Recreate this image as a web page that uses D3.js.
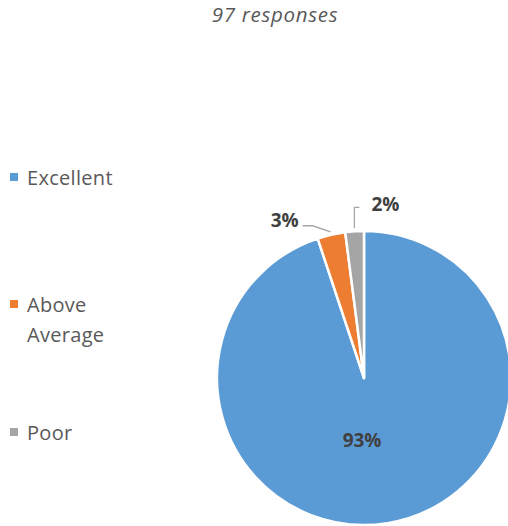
<!DOCTYPE html>
<html>
<head>
<meta charset="utf-8">
<script src="https://cdn.jsdelivr.net/npm/d3@7"></script>
<style>
  html, body { margin: 0; padding: 0; background: #fff; }
  svg { display: block; font-family: "Open Sans", "Noto Sans", sans-serif; }
</style>
</head>
<body>
<svg id="chart" width="508" height="526"></svg>
<script>
// Survey results: share of responses per rating (percent)
const categories = ["Excellent", "Above Average", "Poor"];
const legendLines = [["Excellent"], ["Above", "Average"], ["Poor"]];
const values = [93, 3, 2];
const colors = ["#5B9BD5", "#ED7D31", "#A5A5A5"];
const title = "97 responses";

const svg = d3.select("#chart");
const cx = 364, cy = 378, radius = 147;

// Title
svg.append("text")
  .attr("x", 275).attr("y", 21.5)
  .attr("text-anchor", "middle")
  .attr("font-style", "italic")
  .attr("font-size", 20.5)
  .attr("letter-spacing", 0.7)
  .attr("fill", "#595959")
  .text(title);

// Pie
const pie = d3.pie().sort(null).value(d => d)(values);
const arc = d3.arc().innerRadius(0).outerRadius(radius);
const g = svg.append("g").attr("transform", `translate(${cx},${cy})`);

g.selectAll("path.slice")
  .data(pie)
  .join("path")
  .attr("class", "slice")
  .attr("d", arc)
  .attr("fill", (d, i) => colors[i])
  .attr("stroke", "#fff")
  .attr("stroke-width", 2.5)
  .attr("stroke-linejoin", "round");

// Data labels
const fmt = v => v + "%";
const labelStyle = sel => sel
  .attr("font-weight", "bold")
  .attr("font-size", 19)
  .attr("fill", "#404040")
  .attr("dominant-baseline", "central");

// Large slice: label inside
const inner = d3.arc().innerRadius(63).outerRadius(63);
const c0 = inner.centroid(pie[0]);
g.append("text")
  .call(labelStyle)
  .attr("x", c0[0] - 12).attr("y", c0[1])
  .attr("text-anchor", "middle")
  .text(fmt(values[0]));

// Small slices: labels outside with leader lines
const edge = d3.arc().innerRadius(150).outerRadius(150);
const leader = d3.line();

// Above Average: leader goes up-left, then horizontal
{
  const p = edge.centroid(pie[1]);
  const elbow = [p[0] - 18, p[1] - 6];
  const end = [elbow[0] - 10, elbow[1]];
  g.append("path")
    .attr("d", leader([p, elbow, end]))
    .attr("fill", "none").attr("stroke", "#A6A6A6").attr("stroke-width", 1.3);
  g.append("text").call(labelStyle)
    .attr("x", end[0] - 4).attr("y", end[1] - 6)
    .attr("text-anchor", "end")
    .text(fmt(values[1]));
}

// Poor: leader goes straight up, then right
{
  const p = edge.centroid(pie[2]);
  const elbow = [p[0], p[1] - 21];
  const end = [elbow[0] + 5, elbow[1]];
  g.append("path")
    .attr("d", leader([p, elbow, end]))
    .attr("fill", "none").attr("stroke", "#A6A6A6").attr("stroke-width", 1.3);
  g.append("text").call(labelStyle)
    .attr("x", end[0] + 12).attr("y", end[1] - 3)
    .attr("text-anchor", "start")
    .text(fmt(values[2]));
}

// Legend
const legendY = [177, 304, 432];
const legend = svg.append("g");
categories.forEach((c, i) => {
  legend.append("rect")
    .attr("x", 10).attr("y", legendY[i] - 4)
    .attr("width", 8).attr("height", 8)
    .attr("fill", colors[i]);
  legendLines[i].forEach((line, j) => {
    legend.append("text")
      .attr("x", 27).attr("y", legendY[i] + j * 30)
      .attr("dominant-baseline", "central")
      .attr("font-size", 20)
      .attr("letter-spacing", 0.3)
      .attr("fill", "#595959")
      .text(line);
  });
});
</script>
</body>
</html>
